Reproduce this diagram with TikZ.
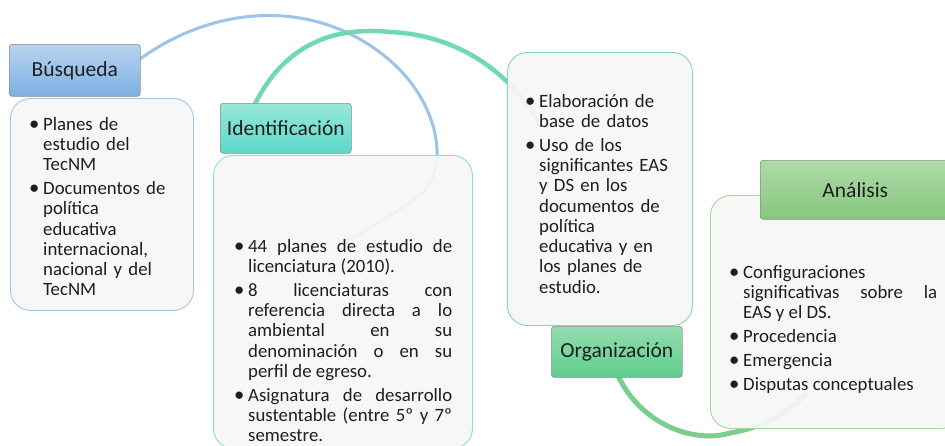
\documentclass[tikz,border=0pt]{standalone}
\usepackage{fontspec}
\setmainfont{Carlito}
\definecolor{barc}{HTML}{9DC3E6}
\definecolor{garcA}{HTML}{6FD9B5}
\definecolor{garcB}{HTML}{7ACF8E}
\definecolor{hAtop}{HTML}{B8D3F0}\definecolor{hAbot}{HTML}{7CB0E2}
\definecolor{hBtop}{HTML}{96E8DA}\definecolor{hBbot}{HTML}{5DD8C8}
\definecolor{hCtop}{HTML}{93DDB0}\definecolor{hCbot}{HTML}{5FCD8D}
\definecolor{hDtop}{HTML}{AEDBA8}\definecolor{hDbot}{HTML}{87C67F}
\definecolor{bA}{HTML}{9FC8E8}\definecolor{bB}{HTML}{8EDFCF}
\definecolor{bC}{HTML}{84DBA6}\definecolor{bD}{HTML}{A6D69E}
\definecolor{txtc}{HTML}{1E1E1E}
\tolerance=10000
\hyphenpenalty=10000
\exhyphenpenalty=10000
\newcommand\bitem{\noindent\hangindent=12pt\hangafter=1\makebox[12pt][l]{\hspace{3pt}\makebox[0pt][c]{\scalebox{1.1}{\textbullet}}}}
\newcommand\isep{\par\vspace{3.5pt}}
\newcommand\bodyfont{\fontsize{18.8}{20.3}\selectfont}
\newcommand\headfont{\fontsize{21.5}{24}\selectfont}
\begin{document}
\begin{tikzpicture}[x=1pt,y=-1pt,
  hdr/.style={draw=black!45, line width=0.6pt, rounded corners=3pt, inner sep=0pt,
    font=\headfont, text=txtc, anchor=north west},
  bodybox/.style={line width=0.9pt, rounded corners=20pt, fill=black!3, fill opacity=0.92,
    inner sep=0pt, anchor=north west},
  txt/.style={inner sep=0pt, anchor=base west, text=txtc, font=\bodyfont},
  arcline/.style={line cap=round}
]
\useasboundingbox (0,0) rectangle (945,445);
\clip (0,0) rectangle (945,445);
\fill[white] (0,0) rectangle (945,445);

% arcs
\coordinate (a1s) at (120,75);
\coordinate (a1m) at (395,65);
\coordinate (a1e) at (345,242);
\draw[arcline, barc, line width=3pt] (a1s) .. controls (205,0) and (320,-5) .. (a1m)
  .. controls (440,108) and (447,165) .. (425,190) .. controls (410,205) and (375,225) .. (a1e);
\coordinate (a2s) at (250,115);
\coordinate (a2m) at (390,32);
\coordinate (a2e) at (540,125);
\draw[arcline, garcA, line width=4.5pt] (a2s) .. controls (285,32) and (350,28) .. (a2m)
  .. controls (445,34) and (505,62) .. (a2e);
\coordinate (a3s) at (612,360);
\coordinate (a3m) at (730,433);
\coordinate (a3e) at (805,395);
\draw[arcline, garcB, line width=5pt] (a3s) .. controls (630,420) and (690,445) .. (a3m)
  .. controls (760,428) and (785,415) .. (a3e);

% bodies
\node[bodybox, draw=bA, minimum width=183pt, minimum height=212pt] (bodyA) at (10,98) {};
\node[bodybox, draw=bB, minimum width=259pt, minimum height=293pt] (bodyB) at (213,155) {};
\node[bodybox, draw=bC, minimum width=185pt, minimum height=273pt] (bodyC) at (507,52) {};
\node[bodybox, draw=bD, minimum width=250pt, minimum height=233pt] (bodyD) at (710,195) {};

% headers
\node[hdr, top color=hAtop, bottom color=hAbot, minimum width=131pt, minimum height=52pt] (hA) at (9,44) {Búsqueda};
\node[hdr, top color=hBtop, bottom color=hBbot, minimum width=131pt, minimum height=50pt] (hB) at (220,103) {Identificación};
\node[hdr, top color=hCtop, bottom color=hCbot, minimum width=131pt, minimum height=51pt] (hC) at (551,326) {Organización};
\node[hdr, top color=hDtop, bottom color=hDbot, minimum width=190pt, minimum height=59pt] (hD) at (760,160) {Análisis};

% texts
\node[txt, text width=150pt, align=left] (tA) at (31,130) {%
\bitem Planes de\newline estudio del\newline TecNM\isep
\bitem Documentos de\newline política\newline educativa\newline internacional,\newline nacional y del\newline TecNM\par};
\node[txt, text width=216pt, align=justify] (tB) at (236,252) {%
\bitem 44 planes de estudio de\linebreak licenciatura (2010).\isep
\bitem 8 licenciaturas con\linebreak referencia directa a lo\linebreak ambiental en su\linebreak denominación o en su\linebreak perfil de egreso.\isep
\bitem Asignatura de desarrollo\linebreak sustentable (entre 5º y 7º\linebreak semestre.\par};
\node[txt, text width=160pt, align=left] (tC) at (527,107) {%
\bitem Elaboración de\newline base de datos\isep
\bitem Uso de los\newline significantes EAS\newline y DS en los\newline documentos de\newline política\newline educativa y en\newline los planes de\newline estudio.\par};
\node[txt, text width=206pt, align=justify] (tD) at (731,278) {%
\bitem Configuraciones\newline significativas sobre la\linebreak EAS y el DS.\isep
\bitem Procedencia\isep
\bitem Emergencia\isep
\bitem Disputas conceptuales\par};
\end{tikzpicture}
\end{document}
